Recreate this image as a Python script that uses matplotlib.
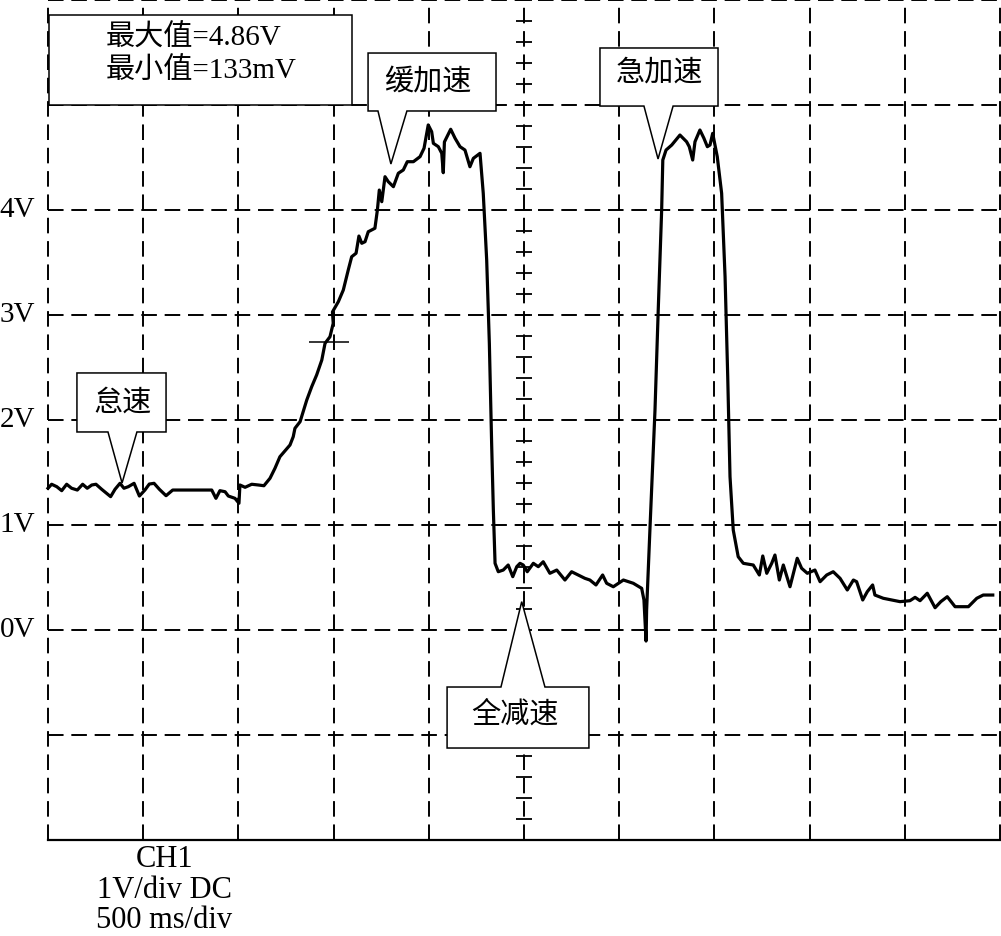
import numpy as np
import matplotlib.pyplot as plt
from matplotlib.patches import Polygon, Rectangle

plt.rcParams['font.family'] = ['Liberation Serif', 'Noto Sans CJK SC']

# CH1 trace: time (s) and voltage (V)
time_s = [
    0.000, 0.019, 0.046, 0.072, 0.098, 0.124, 0.154, 0.182, 0.206, 0.230,
    0.252, 0.282, 0.308, 0.329, 0.352, 0.378, 0.399, 0.422, 0.452, 0.480,
    0.509, 0.532, 0.557, 0.585, 0.620, 0.655, 0.860, 0.882, 0.903, 0.930,
    0.947, 0.982, 1.003, 1.008, 1.035, 1.070, 1.105, 1.134, 1.166, 1.192,
    1.218, 1.271, 1.288, 1.297, 1.324, 1.359, 1.385, 1.411, 1.438, 1.455,
    1.481, 1.498, 1.494, 1.525, 1.551, 1.577, 1.595, 1.618, 1.633, 1.648,
    1.665, 1.682, 1.717, 1.730, 1.740, 1.753, 1.770, 1.787, 1.814, 1.840,
    1.866, 1.887, 1.919, 1.954, 1.975, 1.997, 2.015, 2.024, 2.050, 2.068,
    2.076, 2.082, 2.115, 2.138, 2.164, 2.190, 2.216, 2.234, 2.269, 2.286,
    2.304, 2.318, 2.330, 2.339, 2.348, 2.365, 2.391, 2.417, 2.441, 2.462,
    2.479, 2.496, 2.517, 2.549, 2.575, 2.601, 2.636, 2.672, 2.715, 2.750,
    2.785, 2.820, 2.846, 2.878, 2.913, 2.934, 2.969, 3.022, 3.074, 3.118,
    3.130, 3.141, 3.144, 3.162, 3.188, 3.205, 3.223, 3.229, 3.246, 3.276,
    3.319, 3.354, 3.368, 3.386, 3.398, 3.424, 3.445, 3.463, 3.477, 3.491,
    3.515, 3.538, 3.556, 3.570, 3.582, 3.599, 3.625, 3.652, 3.704, 3.736,
    3.754, 3.775, 3.801, 3.818, 3.841, 3.862, 3.897, 3.935, 3.958, 3.988,
    4.028, 4.055, 4.090, 4.124, 4.160, 4.198, 4.230, 4.247, 4.279, 4.303,
    4.331, 4.343, 4.387, 4.475, 4.527, 4.554, 4.580, 4.618, 4.659, 4.689,
    4.723, 4.764, 4.834, 4.878, 4.912, 4.962,
]
volts = [
    1.350, 1.388, 1.365, 1.327, 1.388, 1.350, 1.333, 1.388, 1.350, 1.381,
    1.388, 1.340, 1.302, 1.270, 1.340, 1.397, 1.350, 1.365, 1.397, 1.276,
    1.333, 1.390, 1.397, 1.340, 1.279, 1.333, 1.333, 1.254, 1.327, 1.317,
    1.276, 1.254, 1.207, 1.381, 1.359, 1.388, 1.381, 1.374, 1.445, 1.540,
    1.650, 1.762, 1.841, 1.921, 1.984, 2.190, 2.317, 2.429, 2.571, 2.730,
    2.793, 2.921, 3.029, 3.127, 3.238, 3.429, 3.555, 3.588, 3.752, 3.683,
    3.698, 3.793, 3.826, 4.000, 4.190, 4.079, 4.317, 4.270, 4.222, 4.350,
    4.381, 4.460, 4.460, 4.508, 4.588, 4.810, 4.746, 4.635, 4.603, 4.540,
    4.355, 4.648, 4.769, 4.683, 4.603, 4.571, 4.412, 4.492, 4.540, 4.159,
    3.524, 2.730, 1.778, 1.143, 0.635, 0.555, 0.571, 0.619, 0.508, 0.603,
    0.635, 0.619, 0.555, 0.635, 0.603, 0.650, 0.540, 0.571, 0.476, 0.555,
    0.524, 0.492, 0.476, 0.429, 0.524, 0.445, 0.412, 0.476, 0.445, 0.397,
    0.286, -0.105, 0.190, 0.984, 2.095, 3.048, 4.000, 4.476, 4.571, 4.619,
    4.714, 4.650, 4.603, 4.476, 4.650, 4.762, 4.683, 4.603, 4.619, 4.730,
    4.508, 4.159, 3.365, 2.412, 1.460, 0.952, 0.698, 0.635, 0.619, 0.524,
    0.705, 0.540, 0.635, 0.714, 0.476, 0.619, 0.412, 0.683, 0.588, 0.540,
    0.571, 0.460, 0.524, 0.555, 0.492, 0.381, 0.476, 0.460, 0.286, 0.365,
    0.429, 0.333, 0.302, 0.270, 0.279, 0.311, 0.279, 0.350, 0.212, 0.270,
    0.317, 0.222, 0.222, 0.302, 0.333, 0.333,
]

sec_per_div = 0.5
n_xdiv = 10
v_min, v_max = -2, 6
volt_ticks = [0, 1, 2, 3, 4]
volt_labels = ['0V', '1V', '2V', '3V', '4V']
info_lines = ['最大值=4.86V', '最小值=133mV']
channel_lines = ['CH1', '1V/div DC', '500 ms/div']
cursor_t, cursor_v = 1.476, 2.746


def draw_callout(ax, label, x0, x1, y0, y1, pa, pb, tip, text_xy):
    if tip[1] < y0:
        verts = [(x0, y1), (x1, y1), (x1, y0), (pb, y0), tip, (pa, y0), (x0, y0)]
    else:
        verts = [(x0, y0), (x1, y0), (x1, y1), (pb, y1), tip, (pa, y1), (x0, y1)]
    ax.add_patch(Polygon(verts, closed=True, fc='white', ec='black',
                         lw=1.1, zorder=3, clip_on=False))
    ax.text(text_xy[0], text_xy[1], label, ha='center', va='center',
            fontsize=21, zorder=5)


fig = plt.figure(figsize=(10.01, 9.36), dpi=100)
ax = fig.add_axes([48 / 1001, 96 / 936, 952 / 1001, 840 / 936])
t_max = sec_per_div * n_xdiv
ax.set_xlim(0, t_max)
ax.set_ylim(v_min, v_max)
ax.set_xticks([])
ax.set_yticks([])
for side in ['top', 'left', 'right']:
    ax.spines[side].set_visible(False)
ax.spines['bottom'].set_linewidth(1.6)

dash = (0, (8, 4))
for t in np.arange(0, t_max + 0.01, sec_per_div):
    ax.axvline(t, color='black', lw=1.4, ls=dash, zorder=1, clip_on=False)
for v in range(v_min + 1, v_max + 1):
    ax.axhline(v, color='black', lw=1.4, ls=dash, zorder=1, clip_on=False)

# minor ticks on the centre graticule line
minor = np.arange(v_min, v_max + 0.01, 0.2)
ax.plot([t_max / 2] * len(minor), minor, ls='none', marker='_', ms=11,
        mew=1.3, color='black', zorder=2, clip_on=False)

# info box
ax.add_patch(Rectangle((0.005, 5.0), 1.592, 0.857, fc='white', ec='black',
                       lw=1.1, zorder=3, clip_on=False))
ax.text(0.305, 5.638, info_lines[0], ha='left', va='center', fontsize=21, zorder=5)
ax.text(0.305, 5.333, info_lines[1], ha='left', va='center', fontsize=21, zorder=5)

draw_callout(ax, '怠速', 0.152, 0.620, 1.886, 2.448, 0.315, 0.467,
             (0.389, 1.400), (0.389, 2.162))
draw_callout(ax, '缓加速', 1.681, 2.353, 4.943, 5.495, 1.733, 1.885,
             (1.801, 4.438), (1.996, 5.219))
draw_callout(ax, '急加速', 2.899, 3.519, 4.990, 5.543, 3.130, 3.283,
             (3.204, 4.486), (3.209, 5.305))
draw_callout(ax, '全减速', 2.096, 2.841, -1.124, -0.543, 2.379, 2.610,
             (2.488, 0.270), (2.453, -0.810))

ax.plot(time_s, volts, color='black', lw=2.3, zorder=4,
        solid_joinstyle='round', clip_on=False)
ax.hlines(cursor_v, cursor_t - 0.105, cursor_t + 0.105, color='black',
          lw=1.1, zorder=4)

for v, lab in zip(volt_ticks, volt_labels):
    ax.text(-0.068, v, lab, ha='right', va='center', fontsize=21)

for i, line in enumerate(channel_lines):
    ax.text(0.612, -2.19 - i * 0.29, line, ha='center', va='center', fontsize=22)

fig.savefig('out.png', dpi=100)
